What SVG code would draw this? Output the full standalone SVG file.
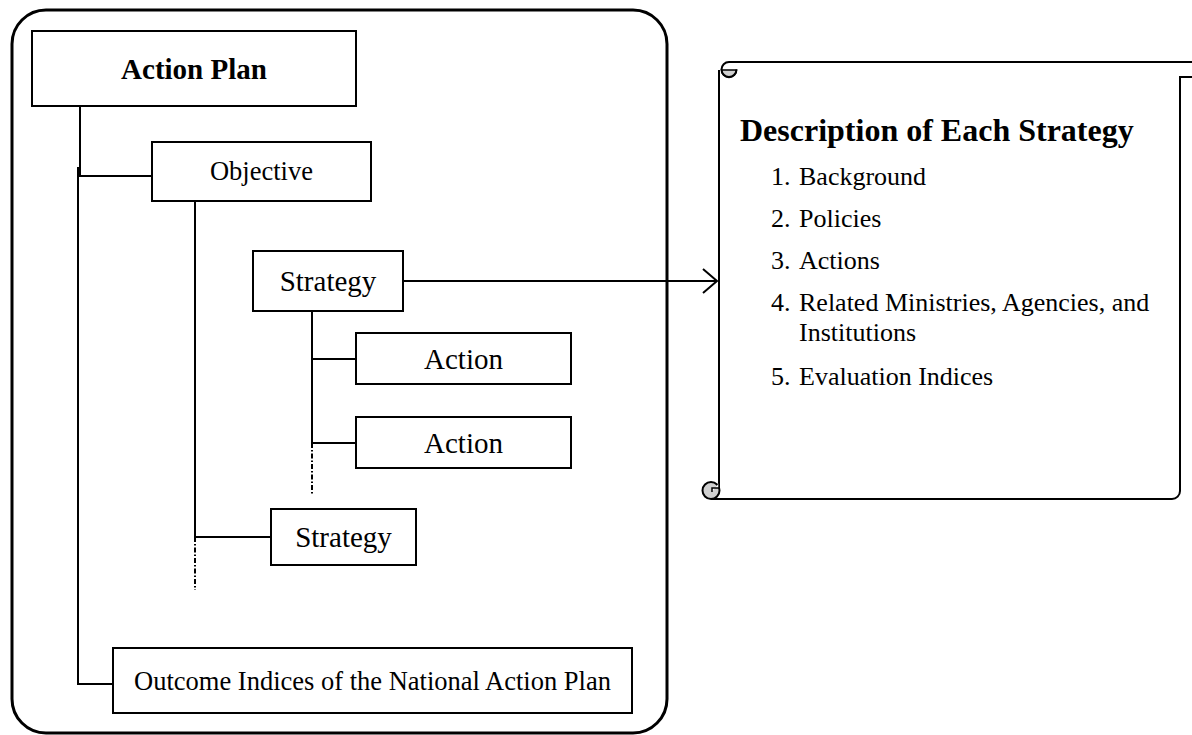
<svg xmlns="http://www.w3.org/2000/svg" width="1192" height="735" viewBox="0 0 1192 735">
<style>
.box{fill:#fff;stroke:#000;stroke-width:2}
.ln{fill:none;stroke:#000;stroke-width:2}
.dd{fill:none;stroke:#000;stroke-width:2;stroke-dasharray:5 2 1.5 2}
.t{font-family:"Liberation Serif","Times New Roman",serif;fill:#000}
.c{text-anchor:middle}
</style>
<rect width="1192" height="735" fill="#fff"/>
<rect id="frame" x="12" y="10" width="655" height="723" rx="34" ry="34" fill="none" stroke="#000" stroke-width="3"/>
<g id="connectors">
<path class="ln" d="M80,106 V176 H152"/>
<path class="ln" d="M78,167 V684 H113"/>
<path class="ln" d="M195,201 V537 H271"/>
<path class="dd" d="M195,537 V590"/>
<path class="ln" d="M312,311 V443 H356"/>
<path class="ln" d="M312,359 H356"/>
<path class="dd" d="M312,443 V494"/>
<path class="ln" d="M403,281 H717"/>
<path class="ln" d="M703,269 L717,281 L703,293"/>
</g>
<g id="action-plan">
<rect class="box" x="32" y="31" width="324" height="75"/>
<text class="t c" x="194" y="79" font-size="29" font-weight="bold">Action Plan</text>
</g>
<g id="objective">
<rect class="box" x="152" y="142" width="219" height="59"/>
<text class="t c" x="261.5" y="180" font-size="26.5">Objective</text>
</g>
<g id="strategy-1">
<rect class="box" x="253" y="251" width="150" height="60"/>
<text class="t c" x="328" y="291" font-size="29">Strategy</text>
</g>
<g id="action-1">
<rect class="box" x="356" y="333" width="215" height="51"/>
<text class="t c" x="463.5" y="369" font-size="29">Action</text>
</g>
<g id="action-2">
<rect class="box" x="356" y="417" width="215" height="51"/>
<text class="t c" x="463.5" y="453" font-size="29">Action</text>
</g>
<g id="strategy-2">
<rect class="box" x="271" y="509" width="145" height="56"/>
<text class="t c" x="343.5" y="547" font-size="29">Strategy</text>
</g>
<g id="outcome">
<rect class="box" x="113" y="648" width="519" height="65"/>
<text class="t c" x="372.5" y="690" font-size="26.5">Outcome Indices of the National Action Plan</text>
</g>
<g id="description">
<path d="M719,70 V489 M711,499 H1172 A8,8 0 0 0 1180,491 V77 H1192" fill="none" stroke="#000" stroke-width="2"/>
<path d="M729,62 H1192" fill="none" stroke="#000" stroke-width="2"/>
<path d="M721.5,70 A7.5,7.5 0 0 0 736.5,70 Z" fill="#d0d0d0" stroke="#000" stroke-width="1.5"/>
<path d="M729,62 A7.5,7.5 0 1 0 736.5,69.5" fill="none" stroke="#000" stroke-width="2"/>
<circle cx="711" cy="490.5" r="8.5" fill="#d0d0d0" stroke="#000" stroke-width="2"/>
<path d="M719,483 V488 H712 V492" fill="#fff" stroke="#000" stroke-width="1.5"/>
<text class="t" x="740" y="141" font-size="32" font-weight="bold">Description of Each Strategy</text>
<text class="t" font-size="26">
<tspan x="771" y="185">1.</tspan><tspan x="799" y="185">Background</tspan>
<tspan x="771" y="227">2.</tspan><tspan x="799" y="227">Policies</tspan>
<tspan x="771" y="269">3.</tspan><tspan x="799" y="269">Actions</tspan>
<tspan x="771" y="311">4.</tspan><tspan x="799" y="311">Related Ministries, Agencies, and</tspan>
<tspan x="799" y="341">Institutions</tspan>
<tspan x="771" y="385">5.</tspan><tspan x="799" y="385">Evaluation Indices</tspan>
</text>
</g>
</svg>
